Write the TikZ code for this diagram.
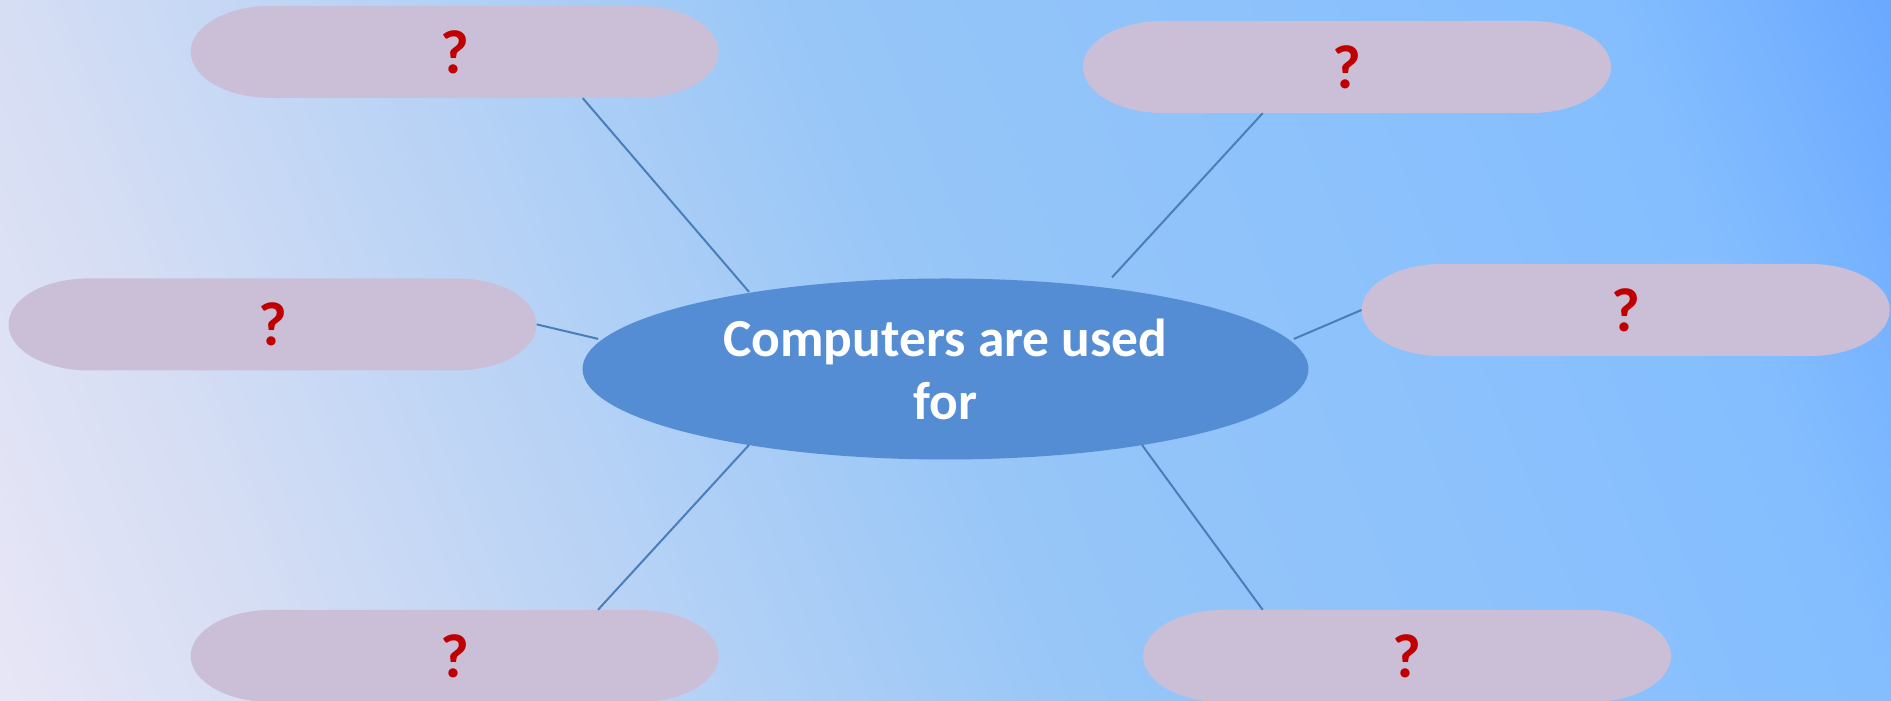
\documentclass[tikz,border=0pt]{standalone}
\usepackage{fontspec}
\setmainfont{Carlito}
\usetikzlibrary{shapes.geometric}
\definecolor{bgA}{HTML}{E8E6F6}
\definecolor{bgB}{HTML}{D6DEF4}
\definecolor{bgC}{HTML}{97C6F7}
\definecolor{bgD}{HTML}{84BEFF}
\definecolor{bgE}{HTML}{6AA8FF}
\definecolor{ellc}{HTML}{548DD4}
\definecolor{lineC}{HTML}{4A7EBB}
\definecolor{pillc}{HTML}{CBBFD8}
\definecolor{qred}{HTML}{C00000}
\pgfdeclarehorizontalshading{bgshade}{100bp}{color(0bp)=(bgA); color(25bp)=(bgA); color(31.5bp)=(bgB); color(50bp)=(bgC); color(68.5bp)=(bgD); color(75bp)=(bgE); color(100bp)=(bgE)}
\tikzset{
  mainell/.style={ellipse, fill=ellc, minimum width=726pt, minimum height=181pt, inner sep=0pt,
    text=white, align=center, font=\bfseries\fontsize{53.5}{63}\selectfont},
  pill/.style={rectangle, inner sep=0pt, minimum width=528pt, minimum height=92pt,
    text=qred, font=\bfseries\fontsize{62}{66}\selectfont,
    path picture={\fill[pillc] ([xshift=80pt]path picture bounding box.south west)
      -- ([xshift=-80pt]path picture bounding box.south east)
      arc[start angle=-90,end angle=90,x radius=80pt,y radius=46pt]
      -- ([xshift=80pt]path picture bounding box.north west)
      arc[start angle=90,end angle=270,x radius=80pt,y radius=46pt] -- cycle;}},
  conn/.style={draw=lineC, line width=2pt}
}
\begin{document}
\begin{tikzpicture}[x=1pt,y=1pt]
\useasboundingbox (0,0) rectangle (1891,701);
\begin{scope}
\clip (0,0) rectangle (1891,701);
\shade[shading=bgshade, transform canvas={rotate around={22:(945.5,350.5)}}] (-62.5,-349.5) rectangle (1953.5,1050.5);
\end{scope}
\node[mainell] (c) at (945.5,332) {Computers are used\\for};
\node[pill] (p1) at (454.7,649.1) {?};
\node[pill] (p2) at (1347,634) {?};
\node[pill] (p3) at (272.5,376.6) {?};
\node[pill] (p4) at (1625.7,391) {?};
\node[pill] (p5) at (454.7,45) {?};
\node[pill] (p6) at (1407,45) {?};
\draw[conn] ([xshift=128pt]p1.south) -- ([shift={(-196.5pt,77.1pt)}]c.center);
\draw[conn] ([xshift=-84.3pt]p2.south) -- ([shift={(166.5pt,91.6pt)}]c.center);
\draw[conn] (p3.east) -- ([shift={(-347.3pt,30.1pt)}]c.center);
\draw[conn] (p4.west) -- ([shift={(348.5pt,30.1pt)}]c.center);
\draw[conn] ([xshift=143.3pt]p5.north) -- ([shift={(-196.5pt,-76pt)}]c.center);
\draw[conn] ([xshift=-144.3pt]p6.north) -- ([shift={(196.5pt,-76pt)}]c.center);
\end{tikzpicture}
\end{document}
